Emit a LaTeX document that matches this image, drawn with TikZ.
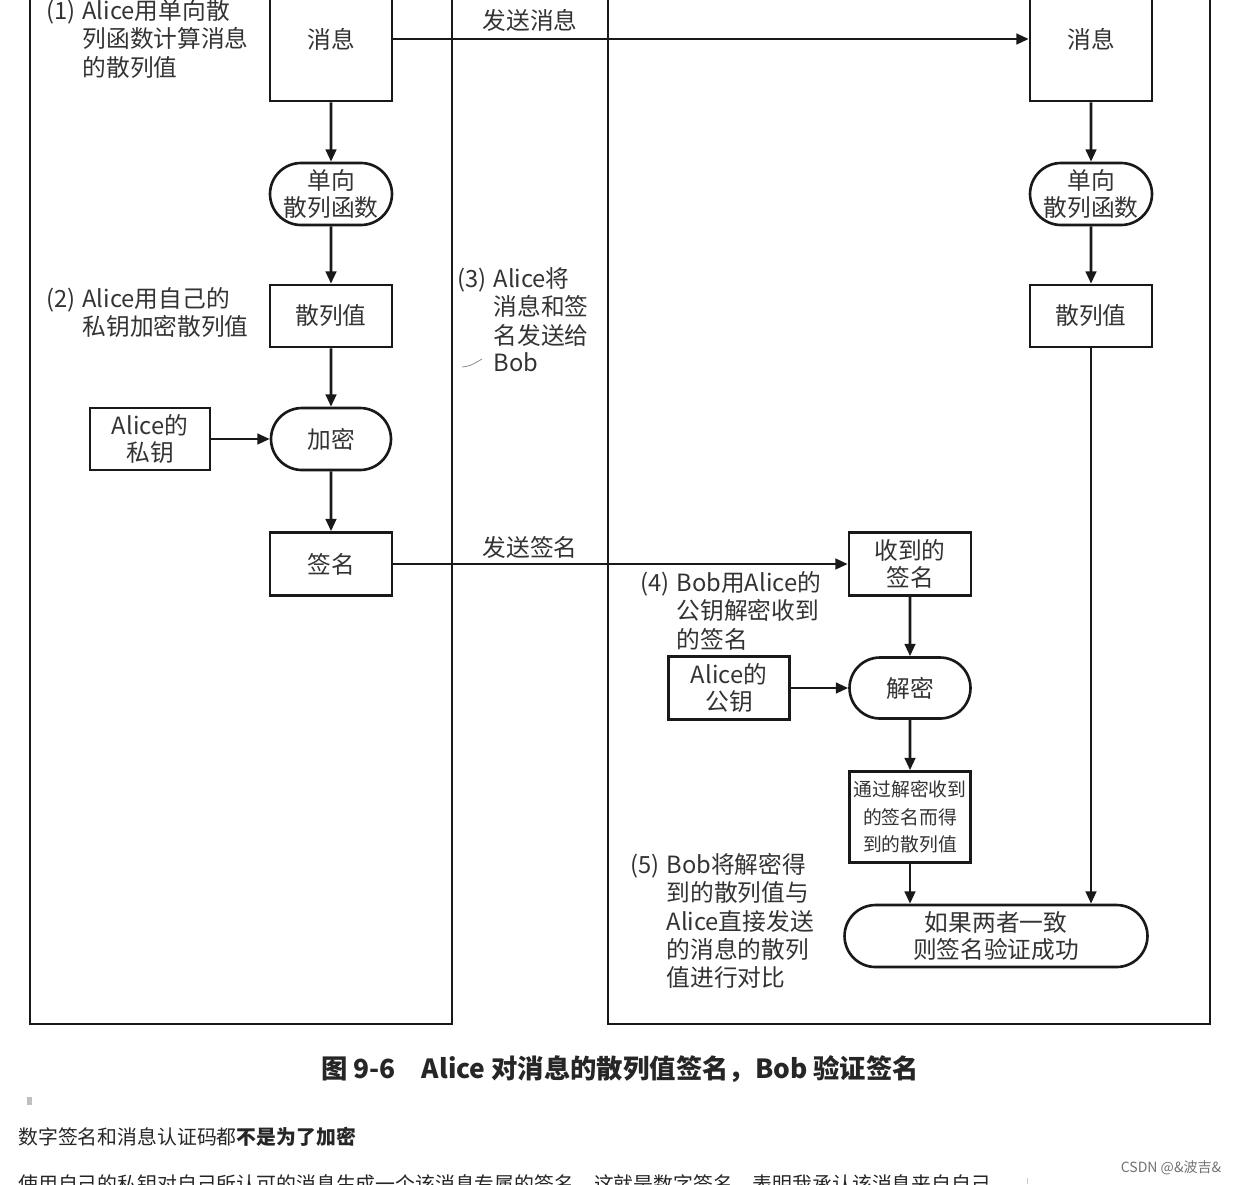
\documentclass[tikz,border=0pt]{standalone}
\usepackage{fontspec}
\setmainfont{Noto Sans CJK SC}
\usepackage{tikz}
\usetikzlibrary{shapes, arrows.meta, positioning}

\begin{document}
\begin{tikzpicture}
  [
    x=0.02cm, y=-0.02cm,
    >={Triangle[length=7pt, width=6pt]},
    Box/.style={rectangle, draw=black!90, line width=1.5pt, minimum width=2.44cm, minimum height=1.24cm, inner sep=0pt, align=center, text=black!80, font=\fontsize{13.5}{15.7}\selectfont},
    Pill/.style={Box, rounded rectangle},
    Note/.style={anchor=north west, inner sep=0pt, text=black!80, font=\fontsize{13.5}{15.7}\selectfont},
    Label/.style={inner sep=0pt, text=black!80, font=\fontsize{13.5}{15.7}\selectfont},
    Lane/.style={draw=black!90, line width=1.6pt},
    Flow/.style={->, draw=black!90, line width=1.5pt}
  ]
  \fill[white] (0,0) rectangle (1236,1184);
  \clip (0,0) rectangle (1236,1184);

  % Lanes
  \path[Lane] (30,-20) rectangle (452,1024);
  \path[Lane] (608,-20) rectangle (1210,1024);

  % Nodes (x, y) -- Alice
  \node[Box, minimum height=2.48cm] (msgA) at (331, 39) {消息};
  \node[Pill] (hashFnA) at (331, 194) {单向\\散列函数};
  \node[Box] (hashA) at (331, 316) {散列值};
  \node[Box, minimum width=2.4cm] (keyA) at (150, 439) {Alice的\\私钥};
  \node[Pill, minimum width=2.4cm] (encA) at (331, 439) {加密};
  \node[Box, minimum height=1.26cm] (sigA) at (331, 564) {签名};

  % Nodes (x, y) -- Bob
  \node[Box, minimum height=2.48cm] (msgB) at (1091, 39) {消息};
  \node[Pill] (hashFnB) at (1091, 194) {单向\\散列函数};
  \node[Box] (hashB) at (1091, 316) {散列值};
  \node[Box, minimum height=1.26cm] (sigB) at (910, 564) {收到的\\签名};
  \node[Box, minimum width=2.42cm, minimum height=1.26cm] (keyB) at (729, 688) {Alice的\\公钥};
  \node[Pill, minimum width=2.42cm, minimum height=1.22cm] (decB) at (910, 688) {解密};
  \node[Box, minimum width=2.42cm, minimum height=1.82cm, font=\fontsize{10.7}{15.7}\selectfont] (hashC) at (910, 817) {通过解密收到\\的签名而得\\到的散列值};
  \node[Pill, minimum width=6.06cm] (result) at (996, 936) {如果两者一致\\则签名验证成功};

  % Arrow labels
  \node[Label] (sendMsg) at (530, 20) {发送消息};
  \node[Label] (sendSig) at (530, 547) {发送签名};

  % Steps
  \node[Note] (step1) at (46, -1) {\begin{tabular}{@{}l@{\hspace{4pt}}l@{}}(1) & Alice用单向散\\ & 列函数计算消息\\ & 的散列值\end{tabular}};
  \node[Note] (step2) at (46, 287) {\begin{tabular}{@{}l@{\hspace{4pt}}l@{}}(2) & Alice用自己的\\ & 私钥加密散列值\end{tabular}};
  \node[Note] (step3) at (457, 267) {\begin{tabular}{@{}l@{\hspace{4pt}}l@{}}(3) & Alice将\\ & 消息和签\\ & 名发送给\\ & Bob\end{tabular}};
  \node[Note] (step4) at (640, 571) {\begin{tabular}{@{}l@{\hspace{4pt}}l@{}}(4) & Bob用Alice的\\ & 公钥解密收到\\ & 的签名\end{tabular}};
  \node[Note] (step5) at (630, 853) {\begin{tabular}{@{}l@{\hspace{4pt}}l@{}}(5) & Bob将解密得\\ & 到的散列值与\\ & Alice直接发送\\ & 的消息的散列\\ & 值进行对比\end{tabular}};
  \draw[black!50, thin] (462, 367) .. controls (470, 366) .. (482, 359);

  % Caption and text
  \node[text=black!85, font=\fontsize{15}{18}\selectfont\bfseries] (caption) at (620, 1069) {图 9-6\hspace{1em}Alice 对消息的散列值签名，Bob 验证签名};
  \fill[black!25] (27, 1097) rectangle (32, 1105);
  \node[anchor=west, inner sep=0pt, text=black!85, font=\fontsize{11.3}{14}\selectfont] (para1) at (18, 1137) {数字签名和消息认证码都\textbf{不是为了加密}};
  \node[anchor=west, inner sep=0pt, text=black!85, font=\fontsize{11.3}{14}\selectfont] (para2) at (18, 1184) {使用自己的私钥对自己所认可的消息生成一个该消息专属的签名，这就是数字签名，表明我承认该消息来自自己};
  \draw[black!20] (1027, 1178) -- (1027, 1184);
  \node[text=black!55, inner sep=0pt, font=\fontsize{8}{10}\selectfont] (mark) at (1171, 1168) {CSDN @\&波吉\&};

  % Lines
  % send message
  \path [Flow] (msgA) -- (msgB);
  % Alice: message -> hash function
  \path [Flow] (msgA) -- (hashFnA);
  % hash function -> hash value
  \path [Flow] (hashFnA) -- (hashA);
  % hash value -> encrypt
  \path [Flow] (hashA) -- (encA);
  % private key -> encrypt
  \path [Flow] (keyA) -- (encA);
  % encrypt -> signature
  \path [Flow] (encA) -- (sigA);
  % send signature
  \path [Flow] (sigA) -- (sigB);
  % Bob: message -> hash function
  \path [Flow] (msgB) -- (hashFnB);
  % hash function -> hash value
  \path [Flow] (hashFnB) -- (hashB);
  % hash value -> compare
  \path [Flow] (hashB) -- (hashB |- result.north);
  % received signature -> decrypt
  \path [Flow] (sigB) -- (decB);
  % public key -> decrypt
  \path [Flow] (keyB) -- (decB);
  % decrypt -> decrypted hash
  \path [Flow] (decB) -- (hashC);
  % decrypted hash -> compare
  \path [Flow] (hashC) -- (hashC |- result.north);

\end{tikzpicture}
\end{document}
